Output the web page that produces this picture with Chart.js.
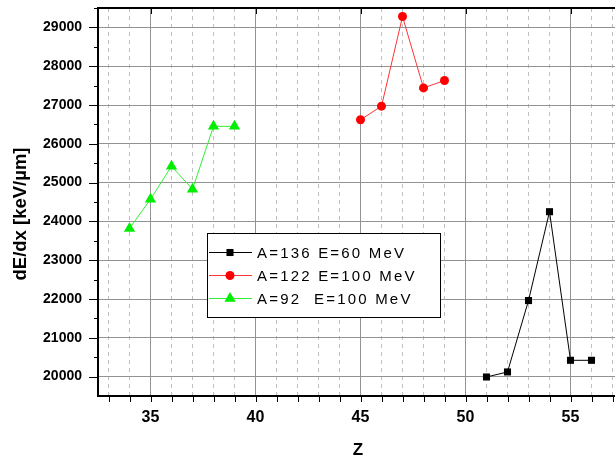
<!DOCTYPE html>
<html>
<head>
<meta charset="utf-8">
<script src="https://cdn.jsdelivr.net/npm/chart.js@4.4.1/dist/chart.umd.min.js"></script>
<style>
html, body { margin: 0; padding: 0; background: #fff; overflow: hidden; }
#wrap { position: relative; width: 630px; height: 460px; }
</style>
</head>
<body>
<div id="wrap"><canvas id="c"></canvas></div>
<script>
// Datos
const zBlack = [51, 52, 53, 54, 55, 56];
const dedxBlack = [19990, 20120, 21960, 24250, 20420, 20420];
const zRed = [45, 46, 47, 48, 49];
const dedxRed = [26620, 26970, 29280, 27440, 27630];
const zGreen = [34, 35, 36, 37, 38, 39];
const dedxGreen = [23820, 24570, 25420, 24830, 26450, 26450];
const seriesNames = ['A=136 E=60 MeV', 'A=122 E=100 MeV', 'A=92  E=100 MeV'];
const xTicks = [33, 34, 35, 36, 37, 38, 39, 40, 41, 42, 43, 44, 45, 46, 47, 48, 49, 50, 51, 52, 53, 54, 55, 56, 57];
const yTicks = [20000, 21000, 22000, 23000, 24000, 25000, 26000, 27000, 28000, 29000];
const xTitle = 'Z';
const yTitle = 'dE/dx [keV/\u00b5m]';

const FONT = "'Liberation Sans', Arial, sans-serif";

function toPoints(xs, ys) {
    return xs.map((v, i) => ({ x: v, y: ys[i] }));
}

// Dibuja un marcador (cuadro, círculo o triángulo)
function drawMarker(ctx, style, x, y, r, color) {
    ctx.fillStyle = color;
    ctx.beginPath();
    if (style === 'rect') {
        const s = r * Math.SQRT1_2;
        ctx.rect(x - s, y - s, 2 * s, 2 * s);
    } else if (style === 'circle') {
        ctx.arc(x, y, r, 0, Math.PI * 2);
    } else {
        ctx.moveTo(x, y - r);
        ctx.lineTo(x + r * Math.sin(Math.PI * 2 / 3), y + r / 2);
        ctx.lineTo(x - r * Math.sin(Math.PI * 2 / 3), y + r / 2);
        ctx.closePath();
    }
    ctx.fill();
}

const series = [
    { name: seriesNames[0], xs: zBlack, ys: dedxBlack, line: '#000000', mark: '#000000', style: 'rect', r: 5 },
    { name: seriesNames[1], xs: zRed, ys: dedxRed, line: '#ff3333', mark: '#ff0000', style: 'circle', r: 4.5 },
    { name: seriesNames[2], xs: zGreen, ys: dedxGreen, line: '#33ee33', mark: '#00ee00', style: 'triangle', r: 6.5 }
];

// Marco, marcas de ejes, títulos y leyenda
const framePlugin = {
    id: 'frame',
    afterDraw(chart) {
        const { ctx, chartArea: a, scales: { x, y } } = chart;
        ctx.save();
        ctx.strokeStyle = '#000';
        ctx.lineWidth = 1;
        // marcas del eje X
        xTicks.forEach(v => {
            const px = Math.round(x.getPixelForValue(v)) + 0.5;
            ctx.beginPath();
            ctx.moveTo(px, a.bottom);
            ctx.lineTo(px, a.bottom + 6);
            ctx.stroke();
            if (v % 5 === 0) {
                ctx.beginPath();
                ctx.moveTo(px, a.top);
                ctx.lineTo(px, a.top + 6);
                ctx.stroke();
            }
        });
        // marcas del eje Y (mayores y menores)
        for (let v = 20000; v <= 29500; v += 500) {
            const py = Math.round(y.getPixelForValue(v)) + 0.5;
            const len = v % 1000 === 0 ? 9 : 4;
            ctx.beginPath();
            ctx.moveTo(a.left, py);
            ctx.lineTo(a.left - len, py);
            ctx.stroke();
        }
        // línea superior
        ctx.lineWidth = 2;
        ctx.beginPath();
        ctx.moveTo(a.left - 1, a.top);
        ctx.lineTo(a.right, a.top);
        ctx.stroke();

        // títulos de los ejes
        ctx.fillStyle = '#000';
        ctx.textAlign = 'center';
        ctx.textBaseline = 'middle';
        ctx.font = 'bold 17px ' + FONT;
        ctx.fillText(xTitle, 358, 450);
        ctx.save();
        ctx.translate(21, 214);
        ctx.rotate(-Math.PI / 2);
        ctx.font = 'bold 18.5px ' + FONT;
        ctx.fillText(yTitle, 0, 0);
        ctx.restore();

        // leyenda
        ctx.fillStyle = '#fff';
        ctx.fillRect(207, 233, 233, 84);
        ctx.lineWidth = 1;
        ctx.strokeStyle = '#000';
        ctx.strokeRect(207.5, 233.5, 233, 84);
        const rows = [252, 275, 298];
        series.forEach((s, i) => {
            const yy = rows[i] + 0.5;
            ctx.strokeStyle = s.line;
            ctx.beginPath();
            ctx.moveTo(209, yy);
            ctx.lineTo(252, yy);
            ctx.stroke();
            drawMarker(ctx, s.style, 230, yy, s.r, s.mark);
            ctx.fillStyle = '#000';
            ctx.textAlign = 'left';
            ctx.font = '15px ' + FONT;
            ctx.letterSpacing = '2.2px';
            ctx.fillText(s.name, 257, yy + 1);
            ctx.letterSpacing = '0px';
        });
        ctx.restore();
    }
};

const ctx = document.getElementById('c').getContext('2d');

new Chart(ctx, {
    type: 'scatter',
    data: {
        datasets: series.map(s => ({
            label: s.name,
            data: toPoints(s.xs, s.ys),
            showLine: true,
            borderColor: s.line,
            borderWidth: 1,
            pointStyle: s.style,
            pointRadius: s.r,
            pointHoverRadius: s.r,
            pointBackgroundColor: s.mark,
            pointBorderColor: s.mark,
            pointBorderWidth: 0,
            tension: 0
        }))
    },
    options: {
        responsive: true,
        maintainAspectRatio: false,
        animation: false,
        events: [],
        layout: { padding: { top: 8, right: 7, left: 0, bottom: 0 } },
        plugins: {
            legend: { display: false },
            tooltip: { enabled: false }
        },
        scales: {
            x: {
                type: 'linear',
                min: 32.5,
                max: 57.5,
                afterBuildTicks: s => { s.ticks = xTicks.map(v => ({ value: v })); },
                afterFit: s => { s.height = 64; s.paddingLeft = 0; s.paddingRight = 0; },
                border: {
                    display: true, color: '#000', width: 2,
                    dash: c => (c.tick && c.tick.value % 5 !== 0) ? [4, 4] : []
                },
                grid: {
                    drawTicks: false,
                    color: c => (c.tick && c.tick.value % 5 === 0) ? '#939393' : '#c0c0c0',
                    lineWidth: 1
                },
                ticks: {
                    autoSkip: false,
                    maxRotation: 0,
                    padding: 12,
                    color: '#000',
                    font: { family: FONT, size: 16, weight: 'bold' },
                    callback: v => (v % 5 === 0 ? String(v) : '')
                }
            },
            y: {
                type: 'linear',
                min: 19500,
                max: 29500,
                afterBuildTicks: s => { s.ticks = yTicks.map(v => ({ value: v })); },
                afterFit: s => { s.width = 98; s.paddingTop = 0; s.paddingBottom = 0; },
                border: { display: true, color: '#000', width: 2 },
                grid: {
                    drawTicks: false,
                    color: '#939393',
                    lineWidth: 1
                },
                ticks: {
                    autoSkip: false,
                    padding: 16,
                    color: '#000',
                    font: { family: FONT, size: 14, weight: 'bold' },
                    callback: v => String(v)
                }
            }
        }
    },
    plugins: [framePlugin]
});
</script>
</body>
</html>
